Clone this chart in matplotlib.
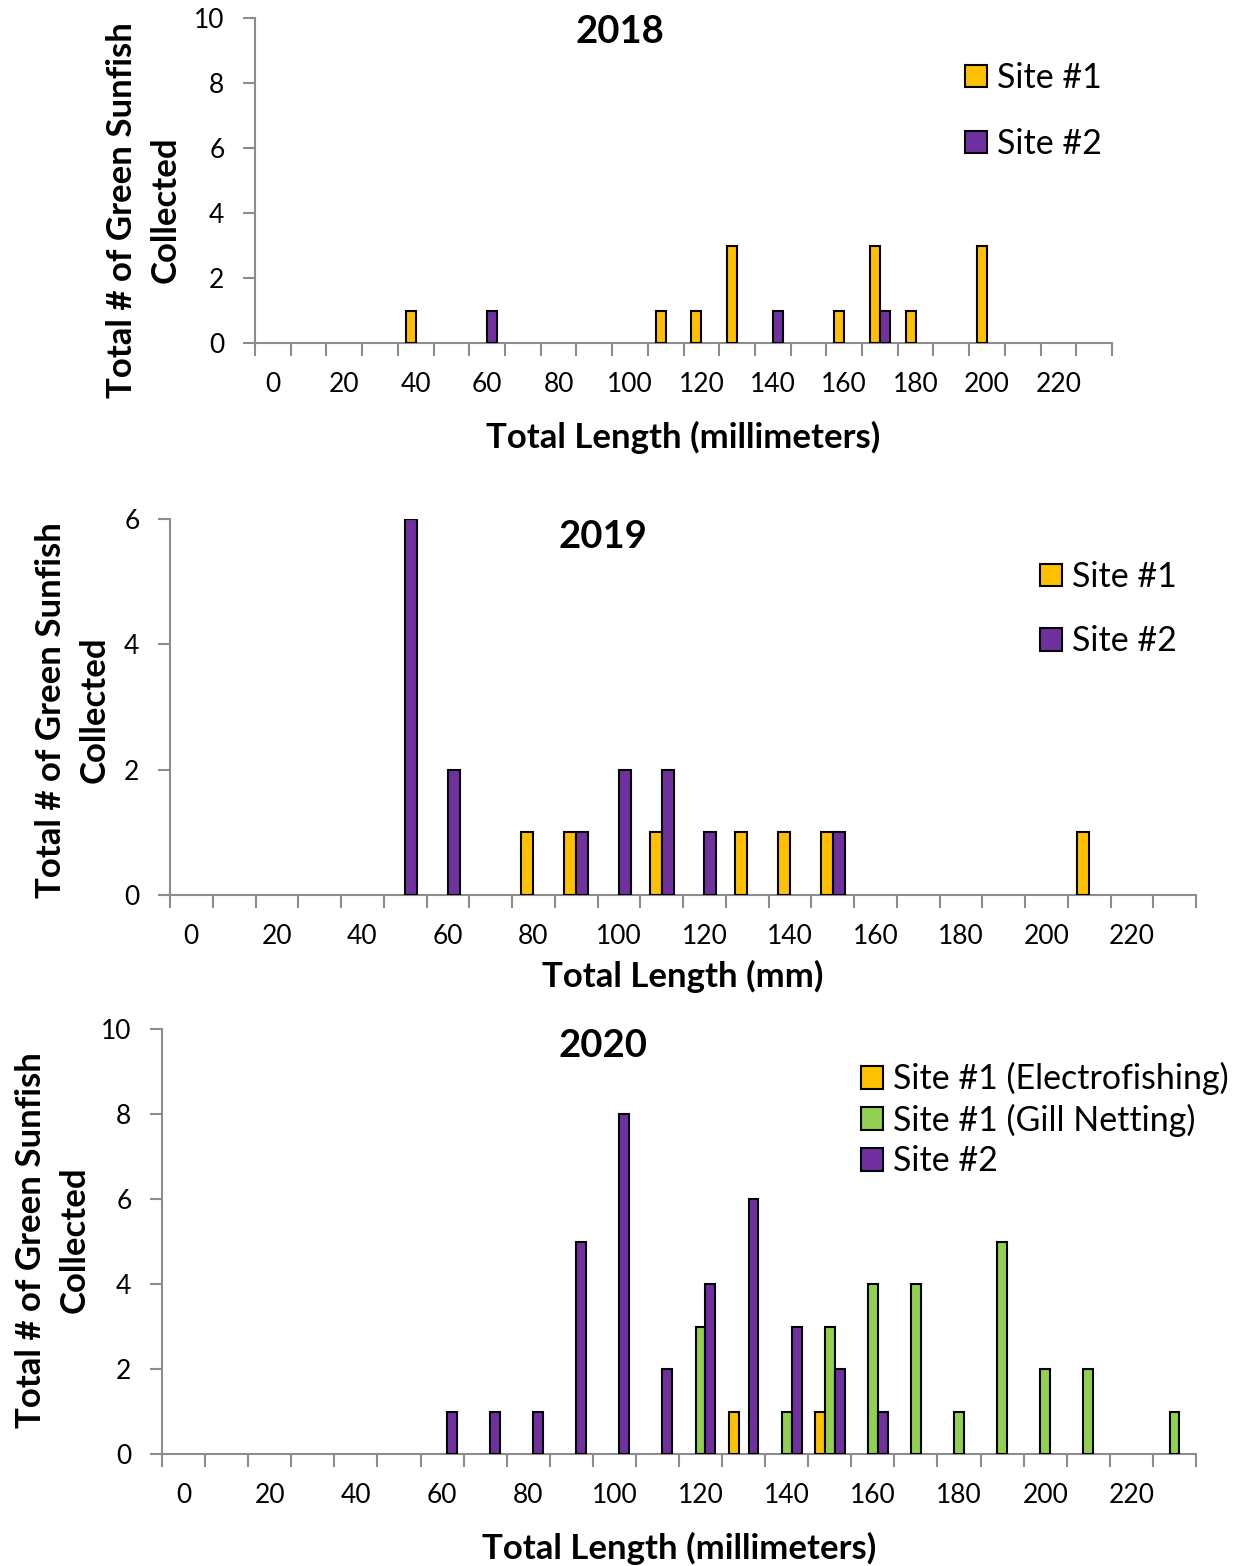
import matplotlib.pyplot as plt
from matplotlib.ticker import FixedLocator, NullFormatter
import numpy as np

plt.rcParams['font.family'] = ['Lato', 'DejaVu Sans']

# length classes (mm), one bar group per class
lengths = [0, 10, 20, 30, 40, 50, 60, 70, 80, 90, 100, 110,
           120, 130, 140, 150, 160, 170, 180, 190, 200, 210, 220, 230]
shown_labels = ['0', '20', '40', '60', '80', '100', '120', '140',
                '160', '180', '200', '220']

# 2018 counts
site1_2018 = [0, 0, 0, 0, 1, 0, 0, 0, 0, 0, 0, 1, 1, 3, 0, 0, 1, 3, 1, 0, 3, 0, 0, 0]
site2_2018 = [0, 0, 0, 0, 0, 0, 1, 0, 0, 0, 0, 0, 0, 0, 1, 0, 0, 1, 0, 0, 0, 0, 0, 0]

# 2019 counts
site1_2019 = [0, 0, 0, 0, 0, 0, 0, 0, 1, 1, 0, 1, 0, 1, 1, 1, 0, 0, 0, 0, 0, 1, 0, 0]
site2_2019 = [0, 0, 0, 0, 0, 6, 2, 0, 0, 1, 2, 2, 1, 0, 0, 1, 0, 0, 0, 0, 0, 0, 0, 0]

# 2020 counts
electro_2020 = [0, 0, 0, 0, 0, 0, 0, 0, 0, 0, 0, 0, 0, 1, 0, 1, 0, 0, 0, 0, 0, 0, 0, 0]
gill_2020 = [0, 0, 0, 0, 0, 0, 0, 0, 0, 0, 0, 0, 3, 0, 1, 3, 4, 4, 1, 5, 2, 2, 0, 1]
site2_2020 = [0, 0, 0, 0, 0, 0, 1, 1, 1, 5, 8, 2, 4, 6, 3, 2, 1, 0, 0, 0, 0, 0, 0, 0]

YELLOW = '#FFC000'
PURPLE = '#7030A0'
GREEN = '#92D050'
AXIS_GREY = '#8C8C8C'

W, H = 1244, 1566
fig = plt.figure(figsize=(W / 100, H / 100), dpi=100)


def px_axes(left, top, right, bottom):
    return fig.add_axes([left / W, 1 - bottom / H, (right - left) / W, (bottom - top) / H])


def draw_bars(ax, counts, offset, width, color, label):
    counts = np.asarray(counts)
    idx = np.arange(len(counts))
    keep = counts > 0
    ax.bar(idx[keep] + offset, counts[keep], width, color=color,
           edgecolor='black', linewidth=1.5, zorder=3)
    # empty proxy so the legend shows every series
    ax.bar([0], [0], 0, color=color, edgecolor='black', linewidth=1.5, label=label)


def style_axes(ax, ymax):
    n = len(lengths)
    ax.set_xlim(-0.5, n - 0.5)
    ax.set_ylim(0, ymax)
    ax.set_yticks(np.arange(0, ymax + 1, 2))
    for s in ['top', 'right']:
        ax.spines[s].set_visible(False)
    for s in ['left', 'bottom']:
        ax.spines[s].set_color(AXIS_GREY)
        ax.spines[s].set_linewidth(1.5)
    # tick marks between classes, labels on every other class
    ax.xaxis.set_major_locator(FixedLocator(np.arange(-0.5, n, 1)))
    ax.xaxis.set_major_formatter(NullFormatter())
    ax.xaxis.set_minor_locator(FixedLocator(np.arange(0, n, 2)))
    ax.set_xticklabels(shown_labels, minor=True)
    ax.tick_params(axis='x', which='major', length=9, width=1.5, color=AXIS_GREY)
    ax.tick_params(axis='x', which='minor', length=0, pad=21, labelsize=19)
    ax.tick_params(axis='y', length=9, width=1.5, color=AXIS_GREY, pad=13, labelsize=19)


def add_ylabel(x, y):
    fig.text(x / W, 1 - y / H, 'Total # of Green Sunfish\nCollected', rotation=90,
             ha='center', va='center', multialignment='center',
             fontsize=25, fontweight='bold', linespacing=1.45)


def add_legend(ax, x, y, spacing):
    ax.legend(loc='upper left', bbox_to_anchor=(x / W, 1 - y / H), bbox_transform=fig.transFigure,
              frameon=False, fontsize=24.5, handlelength=0.65, handleheight=0.65,
              handletextpad=0.3, borderpad=0, borderaxespad=0, labelspacing=spacing)


# ---- 2018 ----
ax1 = px_axes(255, 18, 1112, 343)
draw_bars(ax1, site1_2018, -0.14, 0.28, YELLOW, 'Site #1')
draw_bars(ax1, site2_2018, 0.14, 0.28, PURPLE, 'Site #2')
style_axes(ax1, 10)
ax1.set_xlabel('Total Length (millimeters)', fontsize=25, fontweight='bold', labelpad=17)
fig.text(620 / W, 1 - 32 / H, '2018', ha='center', va='center', fontsize=27.5, fontweight='bold')
add_ylabel(144, 210)
add_legend(ax1, 965, 62, 1.0)

# ---- 2019 ----
ax2 = px_axes(170, 519, 1196, 895)
draw_bars(ax2, site1_2019, -0.14, 0.28, YELLOW, 'Site #1')
draw_bars(ax2, site2_2019, 0.14, 0.28, PURPLE, 'Site #2')
style_axes(ax2, 6)
ax2.set_xlabel('Total Length (mm)', fontsize=25, fontweight='bold', labelpad=8)
fig.text(603 / W, 1 - 537 / H, '2019', ha='center', va='center', fontsize=27.5, fontweight='bold')
add_ylabel(73, 710)
add_legend(ax2, 1040, 561, 0.95)

# ---- 2020 ----
ax3 = px_axes(162, 1029, 1196, 1454)
draw_bars(ax3, electro_2020, -0.23, 0.23, YELLOW, 'Site #1 (Electrofishing)')
draw_bars(ax3, gill_2020, 0.0, 0.23, GREEN, 'Site #1 (Gill Netting)')
draw_bars(ax3, site2_2020, 0.23, 0.23, PURPLE, 'Site #2')
style_axes(ax3, 10)
ax3.set_xlabel('Total Length (millimeters)', fontsize=25, fontweight='bold', labelpad=17)
fig.text(603 / W, 1 - 1046 / H, '2020', ha='center', va='center', fontsize=27.5, fontweight='bold')
add_ylabel(53, 1240)
add_legend(ax3, 861, 1062, 0.25)

fig.savefig('out.png', dpi=100)
